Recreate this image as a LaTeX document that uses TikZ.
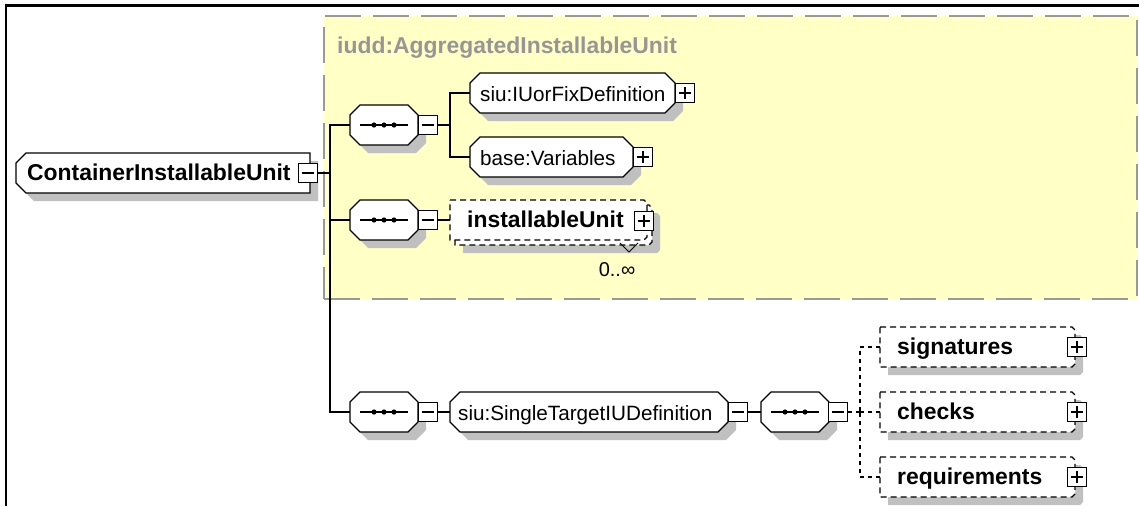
\documentclass[tikz,border=0pt]{standalone}
\usepackage{fontspec}
\setmainfont{Liberation Sans}
\usetikzlibrary{calc}
\definecolor{shadowgray}{RGB}{192,192,192}
\definecolor{groupfill}{RGB}{255,255,198}
\definecolor{groupline}{RGB}{153,153,153}
\definecolor{grouptext}{RGB}{150,150,150}
\newcommand\chpath[3]{($(#1.north west)+(#2,0)$) -- ($(#1.north east)+(-#3,0)$) -- ($(#1.north east)+(0,#3)$) -- ($(#1.south east)+(0,-#3)$) -- ($(#1.south east)+(-#3,0)$) -- ($(#1.south west)+(#2,0)$) -- ($(#1.south west)+(0,-#2)$) -- ($(#1.north west)+(0,#2)$) -- cycle}
\newcommand\drawshape[4]{%
  \path[fill=shadowgray,transform canvas={xshift=8pt,yshift=-8pt}] \chpath{#1}{#2}{#3};
  \path[#4] \chpath{#1}{#2}{#3};}
\newcommand\drawplain[4]{\path[#4] \chpath{#1}{#2}{#3};}
\newcommand\seqsym[1]{%
  \draw[line width=1.3pt] ($(#1.west)+(10,0)$) -- ($(#1.east)+(-10,0)$);
  \fill ($(#1.center)+(-10,0)$) circle (2.6pt) (#1.center) circle (2.6pt) ($(#1.center)+(10,0)$) circle (2.6pt);}
\tikzset{
  geo/.style={rectangle, draw=none, inner sep=0pt, outer sep=0pt, minimum height=40pt},
  solidshape/.style={fill=white, draw=black, line width=1.3pt},
  dashshape/.style={fill=white, draw=black, line width=1.3pt, dash pattern=on 6pt off 4pt},
  conn/.style={draw=black, line width=1.3pt},
  dconn/.style={draw=black, line width=1.3pt, dash pattern=on 4pt off 4pt},
  pmbase/.style={rectangle, draw=black, fill=white, line width=1.3pt, minimum size=19.5pt, inner sep=0pt},
  minusbox/.style={pmbase, path picture={\draw[line width=1.3pt] ([xshift=4pt]path picture bounding box.west) -- ([xshift=-4pt]path picture bounding box.east);}},
  plusbox/.style={pmbase, path picture={\draw[line width=1.3pt] ([xshift=4pt]path picture bounding box.west) -- ([xshift=-4pt]path picture bounding box.east) ([yshift=-4pt]path picture bounding box.north) -- ([yshift=4pt]path picture bounding box.south);}},
  btext/.style={inner sep=0pt, anchor=base west, font=\fontsize{22.9}{26}\selectfont\bfseries},
  rtext/.style={inner sep=0pt, anchor=base west, font=\fontsize{20.7}{24}\selectfont},
}
\begin{document}
\begin{tikzpicture}[x=1pt,y=-1pt]
\useasboundingbox (0,0) rectangle (1139,506);
% frame
\draw[line width=2.5pt] (6.2,506) -- (6.2,5.5) -- (1139,5.5);
% group
\node[rectangle, fill=groupfill, draw=groupline, line width=2pt, dash pattern=on 36pt off 12pt, minimum width=813pt, minimum height=283pt, inner sep=0pt] (grp) at (730.5,157.5) {};
\node[btext, text=grouptext] (grpT) at (337,53) {iudd:AggregatedInstallableUnit};
% geometry nodes
\node[geo, minimum width=294pt] (root) at (163,173) {};
\node[geo, minimum width=68pt] (seq1) at (384,125) {};
\node[geo, minimum width=68pt] (seq2) at (384,220) {};
\node[geo, minimum width=68pt] (seq3) at (384,412) {};
\node[geo, minimum width=68pt] (seq4) at (795,412) {};
\node[geo, minimum width=205pt] (iuor) at (572.5,93) {};
\node[geo, minimum width=163pt] (basev) at (551.5,157) {};
\node[geo, minimum width=197pt] (iuback) at (553.5,225) {};
\node[geo, minimum width=197pt] (iu) at (548.5,220) {};
\node[geo, minimum width=278pt] (stiu) at (589,412) {};
\node[geo, minimum width=195pt] (sig) at (977.5,347) {};
\node[geo, minimum width=195pt] (chk) at (977.5,412) {};
\node[geo, minimum width=195pt] (req) at (977.5,477) {};
% shapes
\drawshape{root}{10}{0}{solidshape}
\drawshape{seq1}{10}{10}{solidshape}
\drawshape{seq2}{10}{10}{solidshape}
\drawshape{seq3}{10}{10}{solidshape}
\drawshape{seq4}{10}{10}{solidshape}
\drawshape{iuor}{10}{10}{solidshape}
\drawshape{basev}{10}{10}{solidshape}
\drawshape{iuback}{0}{3}{dashshape}
\drawplain{iu}{0}{3}{dashshape}
\drawshape{stiu}{10}{10}{solidshape}
\drawshape{sig}{0}{3}{dashshape}
\drawshape{chk}{0}{3}{dashshape}
\drawshape{req}{0}{3}{dashshape}
\seqsym{seq1}
\seqsym{seq2}
\seqsym{seq3}
\seqsym{seq4}
% plus / minus boxes
\node[minusbox] (rootpm) at (308,173) {};
\node[minusbox] (seq1pm) at (428,125) {};
\node[minusbox] (seq2pm) at (428,220) {};
\node[minusbox] (seq3pm) at (428,412) {};
\node[minusbox] (seq4pm) at (838,412) {};
\node[plusbox] (iuorpm) at (685,93) {};
\node[plusbox] (basevpm) at (643,157) {};
\node[plusbox] (iupm) at (644,221) {};
\node[minusbox] (stiupm) at (738,412) {};
\node[plusbox] (sigpm) at (1077,347) {};
\node[plusbox] (chkpm) at (1077,412) {};
\node[plusbox] (reqpm) at (1077,477) {};
% connectors
\coordinate (trunk) at (330,125);
\coordinate (j1) at (450,125);
\coordinate (j4) at (860,412);
\draw[conn] (rootpm.east) -- (rootpm.east -| trunk);
\draw[conn] (seq1.west) -- (seq1.west -| trunk) |- (seq3.west);
\draw[conn] (seq2.west) -- (seq2.west -| trunk);
\draw[conn] (seq1pm.east) -- (j1);
\draw[conn] (iuor.west) -| (j1);
\draw[conn] (basev.west) -| (j1);
\draw[conn] (seq2pm.east) -- (iu.west);
\draw[conn] (seq3pm.east) -- (stiu.west);
\draw[conn] (stiupm.east) -- (seq4.west);
\draw[dconn] (seq4pm.east) -- (j4);
\draw[dconn] (sig.west) -| (j4);
\draw[dconn] (req.west) -| (j4);
\draw[dconn] (chk.west) -- (j4);
% occurrence marker
\coordinate (occ) at (629,252);
\draw[line width=1pt] (occ) ++(-9,-9) -- (occ) -- ++(9,-9);
\node[inner sep=0pt, font=\fontsize{20}{24}\selectfont] (occT) at (617,270) {0..∞};
% texts
\node[btext] (rootT) at ($(root.west)+(11,7.5)$) {ContainerInstallableUnit};
\node[rtext] (iuorT) at ($(iuor.west)+(10,8)$) {siu:IUorFixDefinition};
\node[rtext] (basevT) at ($(basev.west)+(10,8)$) {base:Variables};
\node[btext] (iuT) at ($(iu.west)+(17,7.5)$) {installableUnit};
\node[rtext] (stiuT) at ($(stiu.west)+(8,8)$) {siu:SingleTargetIUDefinition};
\node[btext] (sigT) at ($(sig.west)+(17,7.5)$) {signatures};
\node[btext] (chkT) at ($(chk.west)+(17,7.5)$) {checks};
\node[btext] (reqT) at ($(req.west)+(17,7.5)$) {requirements};
\end{tikzpicture}
\end{document}
